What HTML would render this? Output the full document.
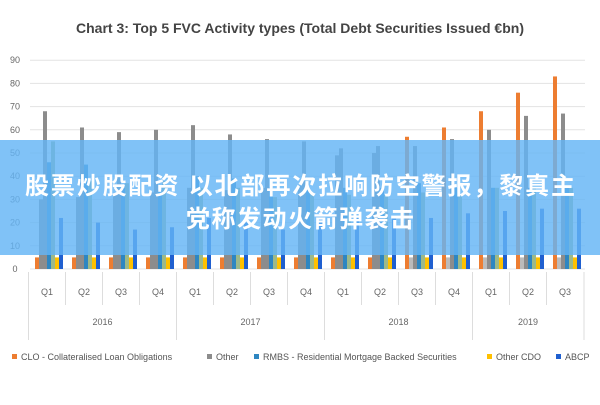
<!DOCTYPE html>
<html><head><meta charset="utf-8"><style>
body{margin:0;background:#fff;width:600px;height:400px;overflow:hidden;font-family:"Liberation Sans","Noto Sans CJK SC",sans-serif}
</style></head><body>
<svg id="s" width="600" height="400" xmlns="http://www.w3.org/2000/svg" font-family="Liberation Sans, sans-serif">
<text x="300" y="33" text-anchor="middle" font-size="14" font-weight="bold" fill="#444" textLength="448">Chart 3: Top 5 FVC Activity types (Total Debt Securities Issued €bn)</text>
<g id="g"></g>
<rect x="0" y="140" width="600" height="115" fill="rgb(100,180,245)" opacity="0.82"/>
<text x="300" y="194" text-anchor="middle" font-size="24" font-weight="bold" fill="#fff" font-family="Liberation Sans, Noto Sans CJK SC, sans-serif" textLength="550">股票炒股配资 以北部再次拉响防空警报，黎真主</text>
<text x="300" y="227" text-anchor="middle" font-size="24" font-weight="bold" fill="#fff" font-family="Liberation Sans, Noto Sans CJK SC, sans-serif" textLength="228">党称发动火箭弹袭击</text>
<g font-size="9" fill="#555">
<rect x="12" y="354" width="5" height="5" fill="#ed7d31"/><text x="21" y="360">CLO - Collateralised Loan Obligations</text>
<rect x="207" y="354" width="5" height="5" fill="#8c8c8c"/><text x="216" y="360">Other</text>
<rect x="254" y="354" width="5" height="5" fill="#2e86c1"/><text x="263" y="360">RMBS - Residential Mortgage Backed Securities</text>
<rect x="487" y="354" width="5" height="5" fill="#ffc000"/><text x="496" y="360">Other CDO</text>
<rect x="556" y="354" width="5" height="5" fill="#1f5fcf"/><text x="565" y="360">ABCP</text>
</g>
</svg>
<script>
var g=document.getElementById('g'),h='';
function Y(v){return 269-v*2.32;}
for(var i=0;i<=9;i++){var y=Y(i*10);h+='<line x1="30" x2="585" y1="'+y+'" y2="'+y+'" stroke="#e3e3e3" stroke-width="1"/>';h+='<text x="15" y="'+(y+3)+'" font-size="9" fill="#666" text-anchor="middle">'+(i*10)+'</text>';}
var d=[[0,30,68,46,55,22],[0,31,61,45,38,20],[0,32,59,35,37,17],[0,33,60,34,38,18],[0,35,62,40,35,22],[0,34,58,39,35,20],[0,35,56,35,31,17],[0,36,55,35,33,20],[0,49,52,35,32,22],[0,50,53,35,32,22],[57,0,53,37,33,22],[61,0,56,35,32,24],[68,0,60,35,35,25],[76,0,66,35,35,26],[83,0,67,35,35,26]];
var q=['Q1','Q2','Q3','Q4'];
for(var k=0;k<15;k++){var c=47+k*37;var v=d[k];
function bar(off,val,col){var y=Y(Math.max(val,5));h+='<rect x="'+(c+off)+'" y="'+y+'" width="4" height="'+(269-y)+'" fill="'+col+'"/>';}
bar(-12,v[0],'#ed7d31');if(v[1])bar(-8,v[1],'#8c8c8c');else bar(-8,5,'#bbb');
bar(-4,v[2],'#8c8c8c');bar(0,v[3],'#2e86c1');bar(4,v[4],'#9cb98a');bar(8,5,'#ffc000');bar(12,v[5],'#1f5fcf');
h+='<text x="'+c+'" y="295" font-size="9" fill="#666" text-anchor="middle">'+q[k%4]+'</text>';
h+='<line x1="'+(c-18.5)+'" x2="'+(c-18.5)+'" y1="272" y2="'+(k%4==0?340:305)+'" stroke="#ddd"/>';}
h+='<line x1="584" x2="584" y1="272" y2="340" stroke="#ddd"/>';
var yrs=[['2016',1.5],['2017',5.5],['2018',9.5],['2019',13]];
yrs.forEach(function(a){h+='<text x="'+(47+a[1]*37)+'" y="325" font-size="9" fill="#666" text-anchor="middle">'+a[0]+'</text>';});
g.innerHTML=h;
</script>
</body></html>
